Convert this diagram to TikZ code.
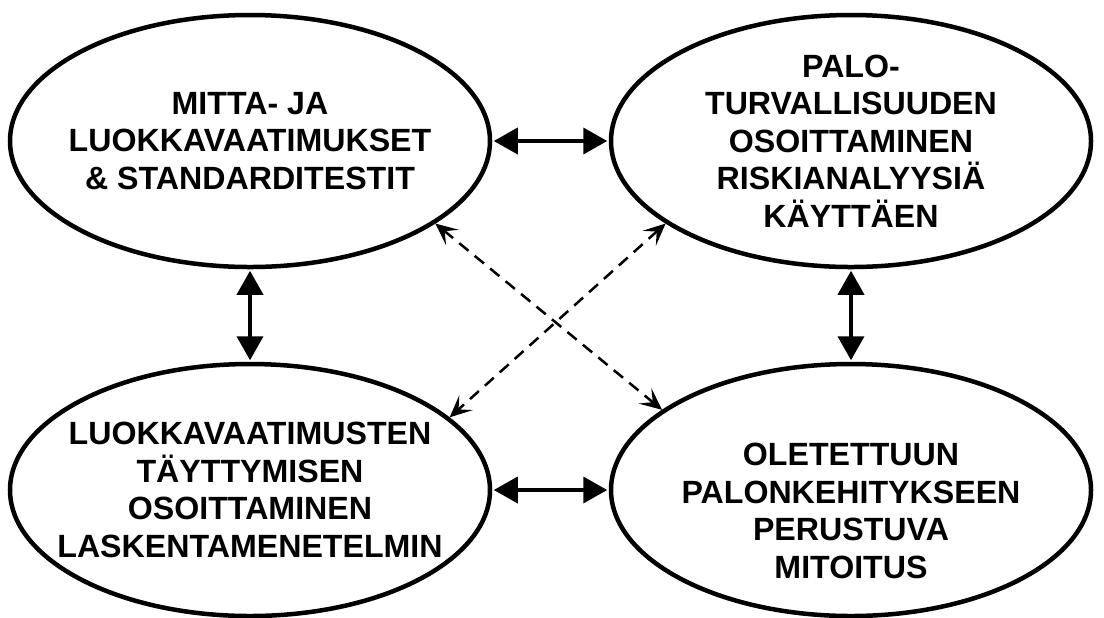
\documentclass[tikz,border=0pt]{standalone}
\usepackage{fontspec}
\setmainfont{Liberation Sans}
\usetikzlibrary{shapes.geometric,arrows.meta}

\begin{document}
\begin{tikzpicture}[
  area/.style={ellipse, draw, line width=0.09cm, minimum width=9.6cm, minimum height=5.04cm,
    inner xsep=-1.5cm, inner ysep=-0.8cm, align=center, font=\fontsize{18.3}{21.4}\selectfont\bfseries},
  solidlink/.style={line width=0.075cm, {Triangle[length=0.48cm,width=0.52cm]}-{Triangle[length=0.48cm,width=0.52cm]}, shorten <=0.03cm, shorten >=0.03cm},
  dashlink/.style={line width=0.05cm, dash pattern=on 0.24cm off 0.16cm, {Stealth[length=0.44cm,width=0.4cm,inset=0.2cm]}-{Stealth[length=0.44cm,width=0.4cm,inset=0.2cm]}}
]
\useasboundingbox (0,0) rectangle (22.08,-12.34);

% Top row
\node[area] (mitta) at (5.0,-2.82) {MITTA- JA\\LUOKKAVAATIMUKSET\\\& STANDARDITESTIT};
\node[area] (palo) at (17.02,-2.82) {PALO-\\TURVALLISUUDEN\\OSOITTAMINEN\\RISKIANALYYSIÄ\\KÄYTTÄEN};

% Bottom row
\node[area] (laskenta) at (5.0,-9.8) {LUOKKAVAATIMUSTEN\\TÄYTTYMISEN\\OSOITTAMINEN\\LASKENTAMENETELMIN};
\node[area] (mitoitus) at (17.02,-9.8) {\strut\\OLETETTUUN\\PALONKEHITYKSEEN\\PERUSTUVA\\MITOITUS};

% Solid links
\draw[solidlink] (mitta) -- (palo);
\draw[solidlink] (laskenta) -- (mitoitus);
\draw[solidlink] (mitta) -- (laskenta);
\draw[solidlink] (palo) -- (mitoitus);

% Dashed cross links
\draw[dashlink] (mitta.-24) -- (mitoitus.157);
\draw[dashlink] (palo.-156) -- (laskenta.20);
\end{tikzpicture}
\end{document}
